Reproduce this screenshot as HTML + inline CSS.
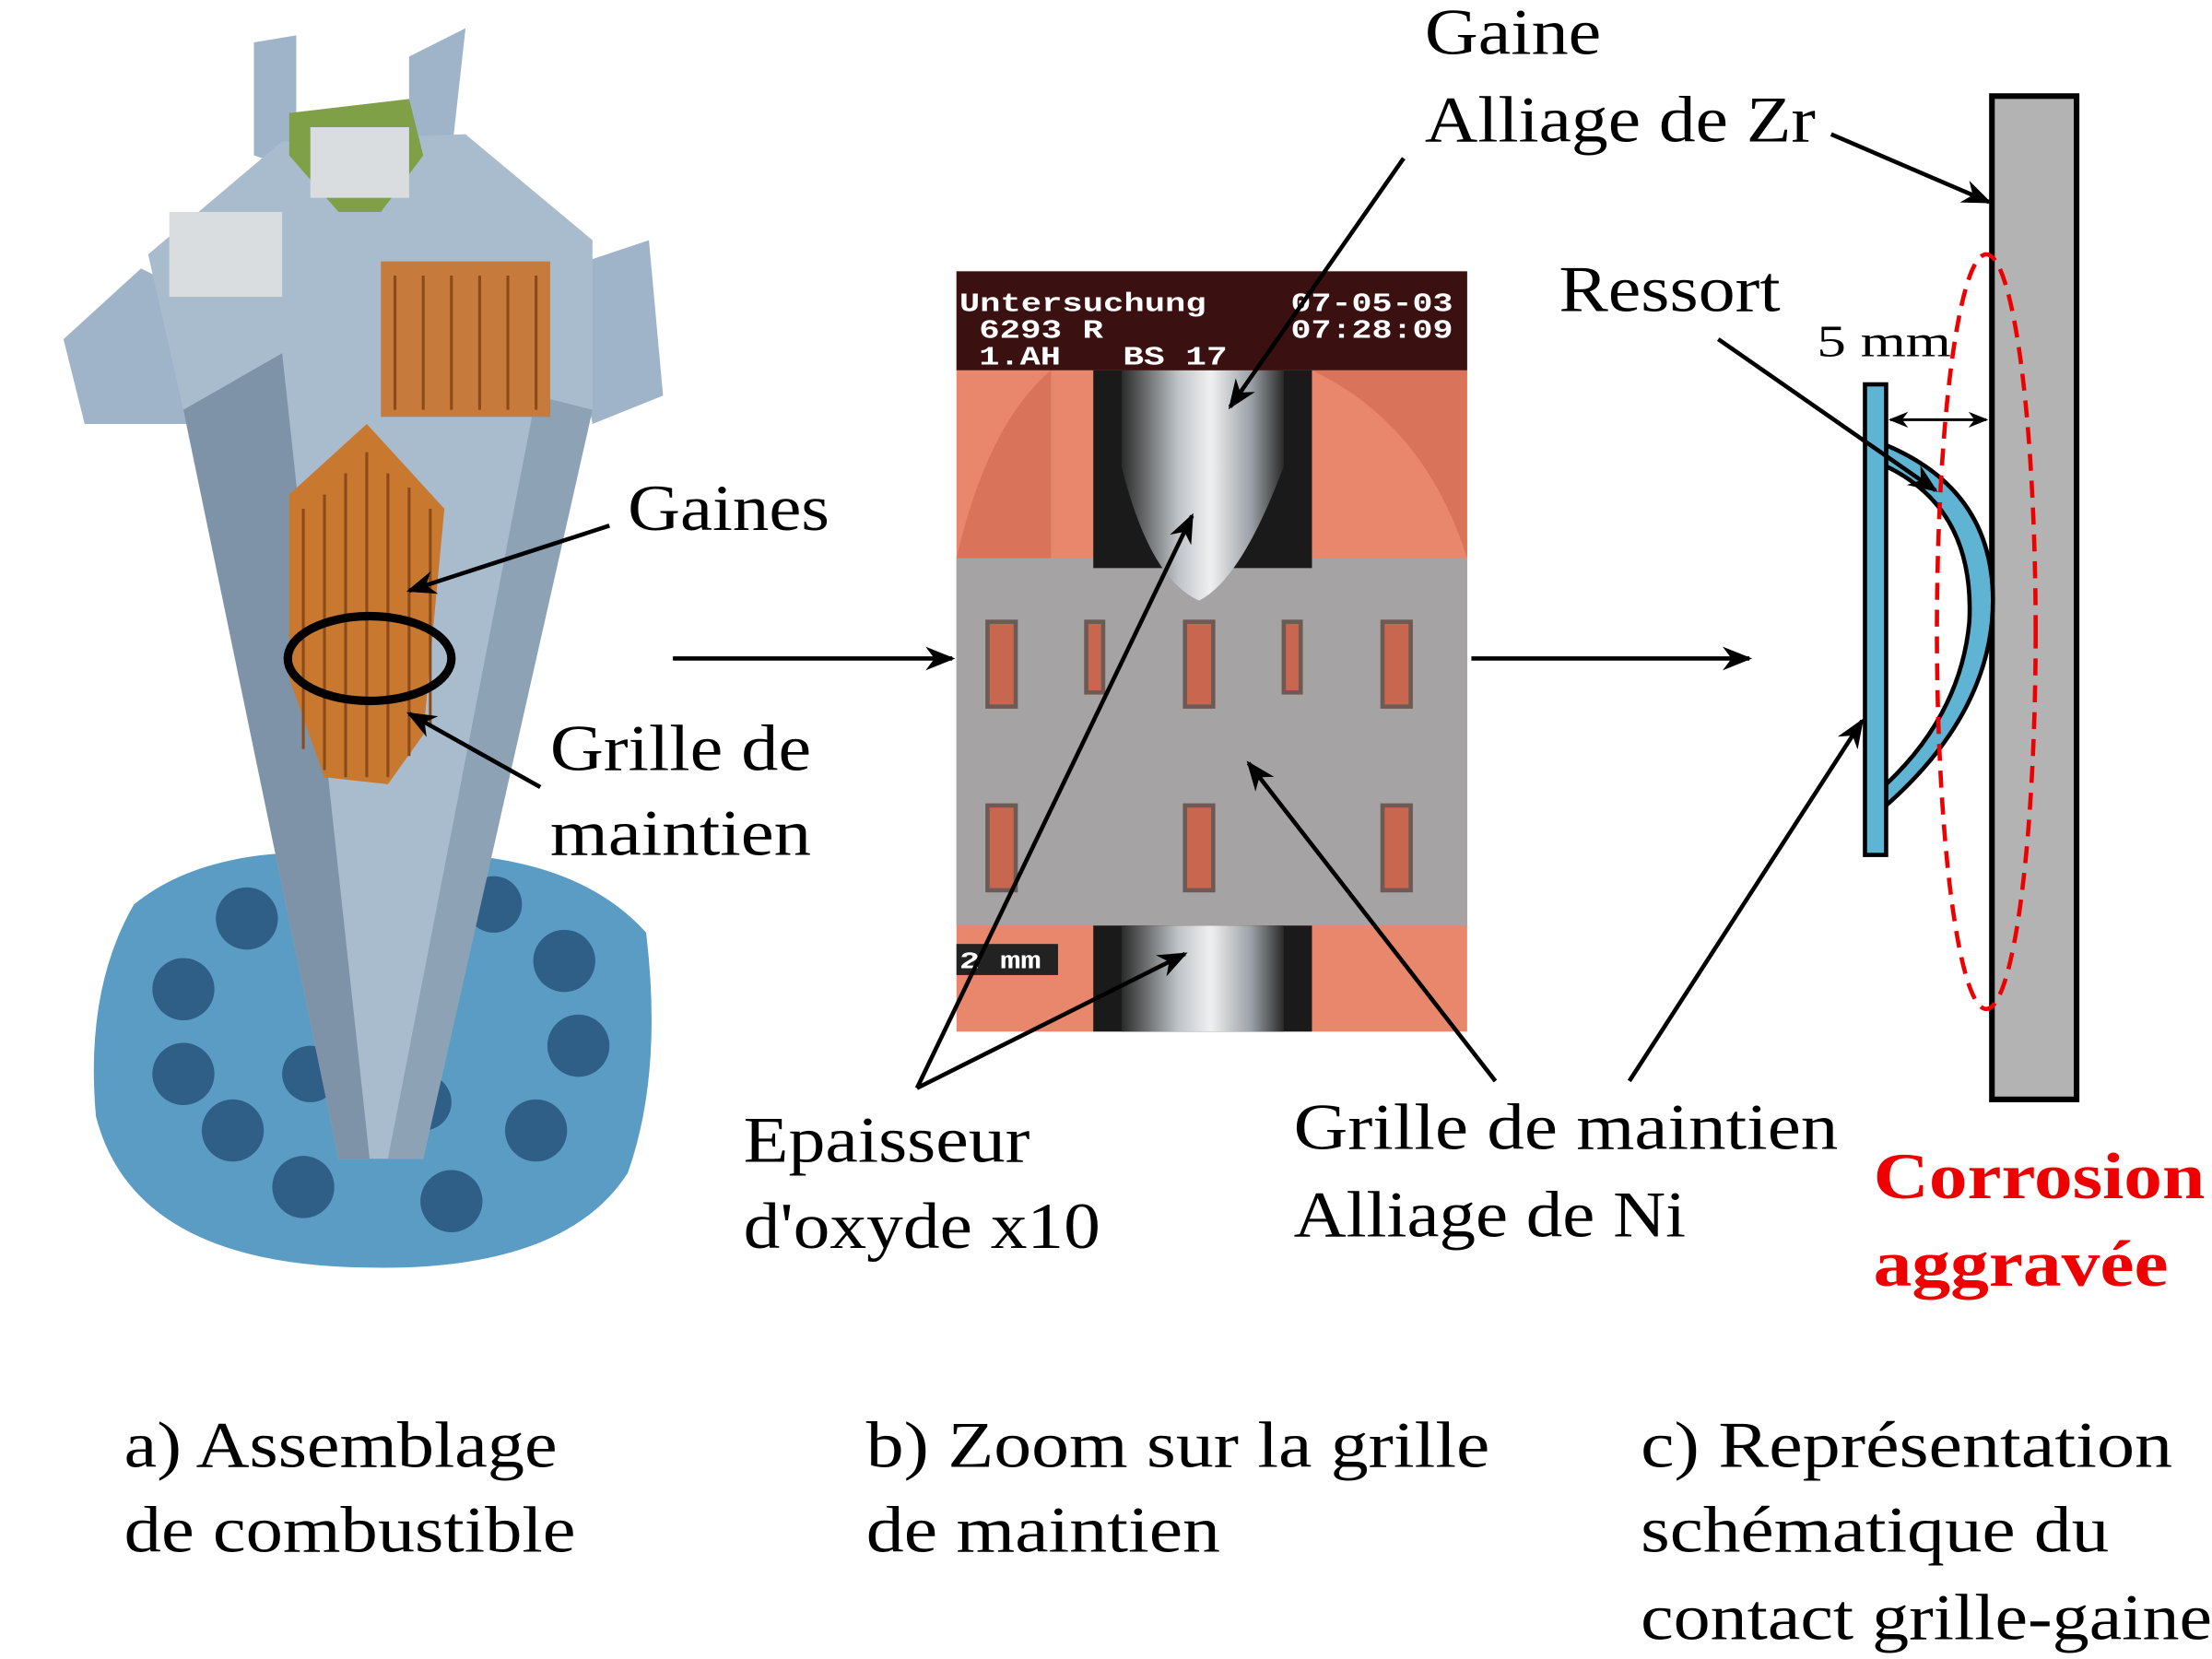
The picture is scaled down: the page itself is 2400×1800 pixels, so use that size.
<!DOCTYPE html>
<html><head><meta charset="utf-8"><style>
html,body{margin:0;padding:0;background:#fff}
svg{display:block}
.s{font-family:"Liberation Serif","DejaVu Serif",serif;}
.m{font-family:"Liberation Mono","DejaVu Sans Mono",monospace;font-weight:bold;}
</style></head><body>
<svg width="2400" height="1800" viewBox="0 0 1568 1174" preserveAspectRatio="none" xmlns="http://www.w3.org/2000/svg">
<defs>
<marker id="ah" viewBox="0 0 10 10" refX="9" refY="5" markerWidth="7" markerHeight="7" orient="auto-start-reverse"><path d="M0,1 L10,5 L0,9 L3,5 z" fill="#000"/></marker>
<linearGradient id="rod" x1="0" x2="1"><stop offset="0" stop-color="#2a2a2a"/><stop offset="0.35" stop-color="#bfc4c8"/><stop offset="0.55" stop-color="#f0f0f0"/><stop offset="0.8" stop-color="#9aa0a6"/><stop offset="1" stop-color="#2a2a2a"/></linearGradient>
</defs>

<!-- a) fuel assembly illustration -->
<g>
<path d="M95,640 Q150,595 260,605 Q400,595 458,660 Q470,760 445,830 Q400,900 260,897 Q95,895 68,790 Q60,700 95,640 z" fill="#5b9cc4"/>
<g fill="#2f5f86">
<circle cx="130" cy="700" r="22"/><circle cx="175" cy="650" r="22"/><circle cx="130" cy="760" r="22"/><circle cx="165" cy="800" r="22"/><circle cx="215" cy="840" r="22"/><circle cx="320" cy="850" r="22"/><circle cx="380" cy="800" r="22"/><circle cx="410" cy="740" r="22"/><circle cx="400" cy="680" r="22"/><circle cx="350" cy="640" r="20"/><circle cx="220" cy="760" r="20"/><circle cx="300" cy="780" r="20"/>
</g>
<path d="M45,240 L100,190 L150,215 L150,300 L60,300 z" fill="#9fb4c8"/>
<path d="M400,190 L460,170 L470,280 L420,300 z" fill="#9fb4c8"/>
<path d="M180,30 L210,25 L210,120 L180,110 z M290,40 L330,20 L320,110 L290,110 z" fill="#9fb4c8"/>
<path d="M105,180 L200,100 L330,95 L420,170 L420,290 L300,820 L240,820 L130,290 z" fill="#a9bccd"/>
<path d="M130,290 L240,820 L262,820 L200,250 z" fill="#7f93a8"/>
<path d="M300,820 L420,290 L380,280 L275,820 z" fill="#8ea2b6"/>
<rect x="270" y="185" width="120" height="110" fill="#c67a3c"/>
<path d="M205,350 L260,300 L315,360 L300,520 L275,555 L230,550 L205,480 z" fill="#c9782f"/>
<g stroke="#8a4a1a" stroke-width="2">
<line x1="215" y1="360" x2="215" y2="530"/><line x1="230" y1="350" x2="230" y2="545"/><line x1="245" y1="335" x2="245" y2="550"/><line x1="260" y1="320" x2="260" y2="550"/><line x1="275" y1="335" x2="275" y2="550"/><line x1="290" y1="345" x2="290" y2="535"/><line x1="305" y1="360" x2="305" y2="515"/>
<line x1="280" y1="195" x2="280" y2="290"/><line x1="300" y1="195" x2="300" y2="290"/><line x1="320" y1="195" x2="320" y2="290"/><line x1="340" y1="195" x2="340" y2="290"/><line x1="360" y1="195" x2="360" y2="290"/><line x1="380" y1="195" x2="380" y2="290"/>
</g>
<path d="M205,80 L290,70 L300,110 L270,150 L240,150 L205,110 z" fill="#7fa046"/>
<rect x="120" y="150" width="80" height="60" fill="#d9dde0"/>
<rect x="220" y="90" width="70" height="50" fill="#d9dde0"/>
</g>
<ellipse cx="262" cy="466" rx="58" ry="30" fill="none" stroke="#000" stroke-width="6"/>
<g class="s" font-size="46">
<text x="445" y="375" textLength="143" lengthAdjust="spacingAndGlyphs">Gaines</text>
<text x="390" y="545" textLength="185" lengthAdjust="spacingAndGlyphs">Grille de</text>
<text x="390" y="605" textLength="185" lengthAdjust="spacingAndGlyphs">maintien</text>
</g>
<line x1="432" y1="372" x2="290" y2="418" stroke="#000" stroke-width="3" marker-end="url(#ah)"/>
<line x1="383" y1="557" x2="290" y2="505" stroke="#000" stroke-width="3" marker-end="url(#ah)"/>
<line x1="477" y1="466" x2="675" y2="466" stroke="#000" stroke-width="3" marker-end="url(#ah)"/>

<!-- b) photo -->
<g>
<rect x="678" y="192" width="362" height="538" fill="#e8876c"/>
<rect x="678" y="395" width="362" height="260" fill="#a5a3a3"/>
<path d="M678,395 Q700,300 745,262 L745,395 z" fill="#d9745a"/>
<path d="M930,262 Q1010,300 1040,395 L1040,262 z" fill="#d9745a"/>
<rect x="775" y="262" width="155" height="140" fill="#1a1a1a"/>
<path d="M795,262 L910,262 L910,330 Q880,410 850,425 Q815,410 795,330 z" fill="url(#rod)"/>
<rect x="775" y="655" width="155" height="75" fill="#1a1a1a"/>
<rect x="795" y="655" width="115" height="75" fill="url(#rod)"/>
<g fill="#c9664f" stroke="#6d5a55" stroke-width="3">
<rect x="700" y="440" width="20" height="60"/><rect x="840" y="440" width="20" height="60"/><rect x="980" y="440" width="20" height="60"/>
<rect x="700" y="570" width="20" height="60"/><rect x="840" y="570" width="20" height="60"/><rect x="980" y="570" width="20" height="60"/>
<rect x="910" y="440" width="12" height="50"/><rect x="770" y="440" width="12" height="50"/>
</g>
<rect x="678" y="192" width="362" height="70" fill="#3a1010"/>
<g class="m" fill="#fff" font-size="19">
<text x="680" y="220" textLength="175" lengthAdjust="spacingAndGlyphs">Untersuchung</text><text x="915" y="220" textLength="115" lengthAdjust="spacingAndGlyphs">07-05-03</text>
<text x="694" y="239" textLength="88" lengthAdjust="spacingAndGlyphs">6293 R</text><text x="915" y="239" textLength="115" lengthAdjust="spacingAndGlyphs">07:28:09</text>
<text x="694" y="258" textLength="58" lengthAdjust="spacingAndGlyphs">1.AH</text><text x="796" y="258" textLength="74" lengthAdjust="spacingAndGlyphs">BS 17</text>
</g>
<rect x="678" y="668" width="72" height="22" fill="#222"/>
<text class="m" x="680" y="685" fill="#fff" font-size="17" textLength="58" lengthAdjust="spacingAndGlyphs">2 mm</text>
</g>
<line x1="995" y1="112" x2="872" y2="288" stroke="#000" stroke-width="3" marker-end="url(#ah)"/>
<line x1="650" y1="770" x2="845" y2="365" stroke="#000" stroke-width="3" marker-end="url(#ah)"/>
<line x1="650" y1="770" x2="840" y2="675" stroke="#000" stroke-width="3" marker-end="url(#ah)"/>
<line x1="1060" y1="765" x2="885" y2="540" stroke="#000" stroke-width="3" marker-end="url(#ah)"/>
<line x1="1155" y1="765" x2="1320" y2="510" stroke="#000" stroke-width="3" marker-end="url(#ah)"/>
<line x1="1043" y1="466" x2="1240" y2="466" stroke="#000" stroke-width="3" marker-end="url(#ah)"/>
<g class="s" font-size="46">
<text x="1010" y="38" textLength="125" lengthAdjust="spacingAndGlyphs">Gaine</text>
<text x="1010" y="100" textLength="277" lengthAdjust="spacingAndGlyphs">Alliage de Zr</text>
<text x="527" y="822" textLength="203" lengthAdjust="spacingAndGlyphs">Epaisseur</text>
<text x="527" y="883" textLength="253" lengthAdjust="spacingAndGlyphs">d'oxyde x10</text>
<text x="917" y="813" textLength="386" lengthAdjust="spacingAndGlyphs">Grille de maintien</text>
<text x="917" y="875" textLength="278" lengthAdjust="spacingAndGlyphs">Alliage de Ni</text>
</g>

<!-- c) schematic -->
<rect x="1412" y="68" width="60" height="710" fill="#b3b3b3" stroke="#000" stroke-width="4"/>
<path d="M1337,315 Q1420,350 1412,440 Q1405,510 1337,570 L1337,555 Q1390,505 1396,440 Q1400,360 1337,330 z" fill="#5fb3d3" stroke="#000" stroke-width="3"/>
<rect x="1322" y="272" width="15" height="333" fill="#5fb3d3" stroke="#000" stroke-width="3"/>
<ellipse cx="1408" cy="447" rx="35" ry="267" fill="none" stroke="#e00" stroke-width="3" stroke-dasharray="12,7"/>
<line x1="1298" y1="95" x2="1410" y2="143" stroke="#000" stroke-width="3" marker-end="url(#ah)"/>
<line x1="1218" y1="240" x2="1372" y2="347" stroke="#000" stroke-width="3" marker-end="url(#ah)"/>
<line x1="1340" y1="297" x2="1408" y2="297" stroke="#000" stroke-width="2" marker-start="url(#ah)" marker-end="url(#ah)"/>
<g class="s">
<text x="1105" y="220" font-size="46" textLength="157" lengthAdjust="spacingAndGlyphs">Ressort</text>
<text x="1288" y="252" font-size="32" textLength="95" lengthAdjust="spacingAndGlyphs">5 mm</text>
<text x="1328" y="848" font-size="46" font-weight="bold" fill="#e00" textLength="235" lengthAdjust="spacingAndGlyphs">Corrosion</text>
<text x="1328" y="910" font-size="46" font-weight="bold" fill="#e00" textLength="209" lengthAdjust="spacingAndGlyphs">aggravée</text>
</g>

<!-- captions -->
<g class="s" font-size="46">
<text x="88" y="1038" textLength="307" lengthAdjust="spacingAndGlyphs">a) Assemblage</text>
<text x="88" y="1098" textLength="320" lengthAdjust="spacingAndGlyphs">de combustible</text>
<text x="614" y="1038" textLength="442" lengthAdjust="spacingAndGlyphs">b) Zoom sur la grille</text>
<text x="614" y="1098" textLength="251" lengthAdjust="spacingAndGlyphs">de maintien</text>
<text x="1163" y="1038" textLength="377" lengthAdjust="spacingAndGlyphs">c) Représentation</text>
<text x="1163" y="1098" textLength="332" lengthAdjust="spacingAndGlyphs">schématique du</text>
<text x="1163" y="1160" textLength="405" lengthAdjust="spacingAndGlyphs">contact grille-gaine</text>
</g>
</svg>
</body></html>
